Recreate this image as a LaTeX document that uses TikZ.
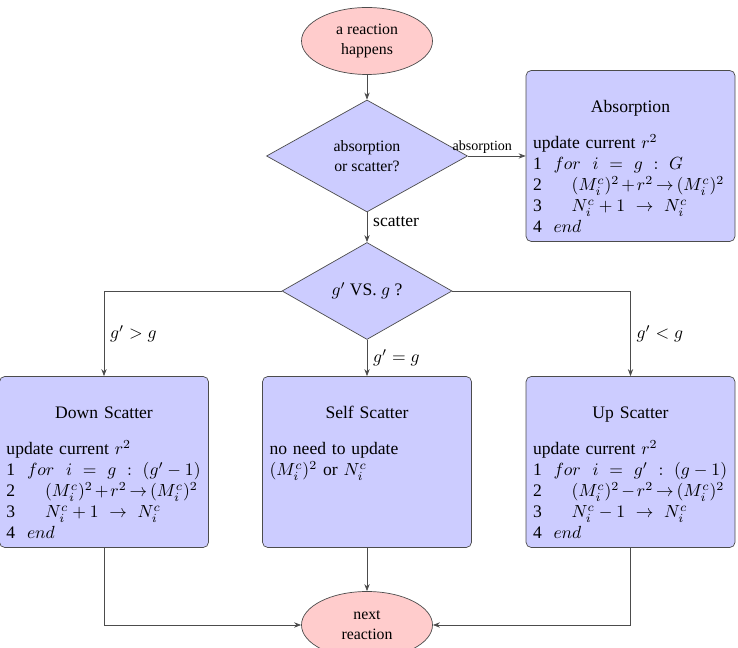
\documentclass[tikz,border=0pt]{standalone}
\usepackage{amsmath}
\usepackage{amssymb}
\usepackage[no-math]{fontspec}
\setmainfont{Liberation Serif}
\usepackage{tikz}
\usetikzlibrary{shapes.geometric,arrows.meta}

\newcommand{\boxtitle}[1]{\rule{0pt}{19pt}\makebox[3.9cm][c]{#1}\\[8.5pt]}
\newcommand{\codeline}[2]{\mbox{#1\hspace{17pt}$#2$}}
\newcommand{\tight}{\medmuskip=2mu\thickmuskip=3mu}

\tikzset{
	startstop/.style={ellipse, draw=black!70, fill=red!20, minimum width=2.62cm, minimum height=1.34cm, align=center, font=\small},
	decision/.style={diamond, draw=black!70, fill=blue!20, inner sep=0pt, align=center, font=\small},
	process/.style={rectangle, rounded corners=3pt, draw=black!70, fill=blue!20, text width=3.9cm, inner xsep=0.14cm, minimum height=3.42cm, align=left},
	arrow/.style={draw=black!70, -{Stealth[length=4pt,width=3pt]}}
}

\begin{document}
\begin{tikzpicture}
				\useasboundingbox (0,0) rectangle (14.76,12.94);
				\node[startstop] (start) at (7.34,12.12) {a reaction\\happens};
				\node[decision, minimum width=4.02cm, minimum height=2.24cm] (choice) at (7.34,9.82) {absorption\\or scatter?};
				\node[process] (absorb) at (12.61,9.82) {\boxtitle{Absorption}update current $r^2$\\
					1\ \ $for\ \ i\ =\ g\ :\ G$\\
					\codeline{2}{\tight(M_i^c)^2+r^2\rightarrow(M_i^c)^2}\\
					\codeline{3}{N_i^c+1\ \rightarrow\ N_i^c}\\
					4\ \ $end$};
				\node[decision, minimum width=3.4cm, minimum height=1.94cm, font=\normalsize] (compare) at (7.34,7.12) {$g'$ VS. $g$ ?};
				\node[process] (down) at (2.08,3.70) {\boxtitle{Down Scatter}update current $r^2$\\
					1\ \ $for\ \ i\ =\ g\ :\ (g'-1)$\\
					\codeline{2}{\tight(M_i^c)^2+r^2\rightarrow(M_i^c)^2}\\
					\codeline{3}{N_i^c+1\ \rightarrow\ N_i^c}\\
					4\ \ $end$};
				\node[process] (self) at (7.34,3.70) {\boxtitle{Self Scatter}no need to update\\
					$(M_i^c)^2$ or $N_i^c$\\ \mbox{}\\ \mbox{}\\ \mbox{}};
				\node[process] (up) at (12.61,3.70) {\boxtitle{Up Scatter}update current $r^2$\\
					1\ \ $for\ \ i\ =\ g'\ :\ (g-1)$\\
					\codeline{2}{\tight(M_i^c)^2-r^2\rightarrow(M_i^c)^2}\\
					\codeline{3}{N_i^c-1\ \rightarrow\ N_i^c}\\
					4\ \ $end$};
				\node[startstop] (next) at (7.34,0.44) {next\\reaction};
				\draw[arrow] (start) -- (choice);
				\draw[arrow] (choice) -- node[above, pos=0.25, font=\footnotesize, inner sep=1.5pt] {absorption} (absorb);
				\draw[arrow] (choice) -- node[right, pos=0.32] {scatter} (compare);
				\draw[arrow] (compare.west) -| node[right, pos=0.75] {$g'>g$} (down);
				\draw[arrow] (compare.east) -| node[right, pos=0.75] {$g'<g$} (up);
				\draw[arrow] (compare) -- node[right] {$g'=g$} (self);
				\draw[arrow] (down) |- (next);
				\draw[arrow] (up) |- (next);
				\draw[arrow] (self) -- (next);
			\end{tikzpicture}
\end{document}
